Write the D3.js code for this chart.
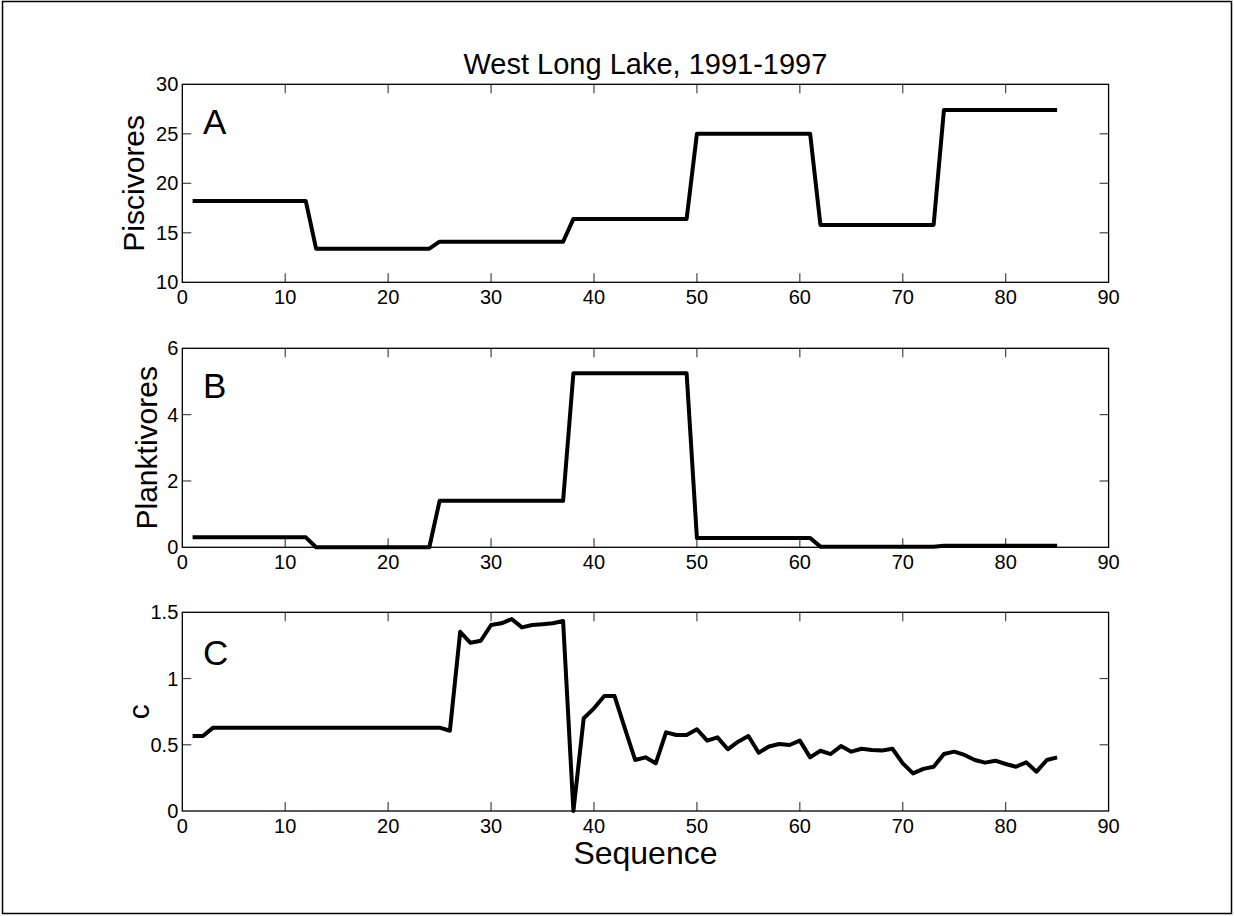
<!DOCTYPE html>
<html>
<head>
<meta charset="utf-8">
<script src="https://cdn.jsdelivr.net/npm/d3@7"></script>
<style>
body { margin: 0; background: #fff; }
text { font-family: Arial, "Liberation Sans", Helvetica, sans-serif; fill: #000; }
</style>
</head>
<body>
<div class="chart"></div>
<script>
// sequence numbers (x)
const sequence = [1,2,3,4,5,6,7,8,9,10,11,12,13,14,15,16,17,18,19,20,
	21,22,23,24,25,26,27,28,29,30,31,32,33,34,35,36,37,38,39,40,
	41,42,43,44,45,46,47,48,49,50,51,52,53,54,55,56,57,58,59,60,
	61,62,63,64,65,66,67,68,69,70,71,72,73,74,75,76,77,78,79,80,
	81,82,83,84,85]

// panel A
const piscivores = [18.2,18.2,18.2,18.2,18.2,18.2,18.2,18.2,18.2,18.2,18.2,18.2,
	13.4,13.4,13.4,13.4,13.4,13.4,13.4,13.4,13.4,13.4,13.4,13.4,
	14.1,14.1,14.1,14.1,14.1,14.1,14.1,14.1,14.1,14.1,14.1,14.1,14.1,
	16.4,16.4,16.4,16.4,16.4,16.4,16.4,16.4,16.4,16.4,16.4,16.4,
	25.0,25.0,25.0,25.0,25.0,25.0,25.0,25.0,25.0,25.0,25.0,25.0,
	15.8,15.8,15.8,15.8,15.8,15.8,15.8,15.8,15.8,15.8,15.8,15.8,
	27.4,27.4,27.4,27.4,27.4,27.4,27.4,27.4,27.4,27.4,27.4,27.4]

// panel B
const planktivores = [0.3,0.3,0.3,0.3,0.3,0.3,0.3,0.3,0.3,0.3,0.3,0.3,
	0,0,0,0,0,0,0,0,0,0,0,0,
	1.4,1.4,1.4,1.4,1.4,1.4,1.4,1.4,1.4,1.4,1.4,1.4,1.4,
	5.25,5.25,5.25,5.25,5.25,5.25,5.25,5.25,5.25,5.25,5.25,5.25,
	0.28,0.28,0.28,0.28,0.28,0.28,0.28,0.28,0.28,0.28,0.28,0.28,
	0.02,0.02,0.02,0.02,0.02,0.02,0.02,0.02,0.02,0.02,0.02,0.02,
	0.05,0.05,0.05,0.05,0.05,0.05,0.05,0.05,0.05,0.05,0.05,0.05]

// panel C
const cValues = [0.566,0.566,0.629,0.629,0.629,0.629,0.629,0.629,0.629,0.629,
	0.629,0.629,0.629,0.629,0.629,0.629,0.629,0.629,0.629,0.629,
	0.629,0.629,0.629,0.629,0.629,0.606,1.353,1.27,1.285,1.404,
	1.417,1.449,1.386,1.404,1.41,1.417,1.434,0.0,0.70,0.775,
	0.868,0.868,0.624,0.385,0.405,0.36,0.594,0.574,0.574,0.617,
	0.531,0.556,0.466,0.523,0.566,0.44,0.487,0.506,0.498,0.531,
	0.405,0.455,0.43,0.49,0.448,0.47,0.46,0.457,0.47,0.36,
	0.284,0.318,0.334,0.43,0.448,0.423,0.385,0.365,0.38,0.355,
	0.334,0.367,0.297,0.385,0.405]

const xTicks = [0,10,20,30,40,50,60,70,80,90]
const yTicksA = [10,15,20,25,30]
const yTicksB = [0,2,4,6]
const yTicksC = [0,0.5,1,1.5]

const titleText = 'West Long Lake, 1991-1997'
const xLabel = 'Sequence'

const width = 1234
const height = 916
const svg = d3.select('.chart')
	.append('svg')
	.attr('width', width)
	.attr('height', height)

// outer figure border
svg.append('rect')
	.attr('x', 2.5).attr('y', 1.5)
	.attr('width', 1229).attr('height', 912)
	.attr('fill', 'none')
	.attr('stroke', '#000')
	.attr('stroke-width', 1.5)

const x = d3.scaleLinear().domain([0, 90]).range([182.3, 1108.6])

const panels = [
	{ values: piscivores, domain: [10, 30], ticks: yTicksA, top: 84.3, bottom: 282.3,
		ylabel: 'Piscivores', labelX: 144, letter: 'A', letterY: 25 },
	{ values: planktivores, domain: [0, 6], ticks: yTicksB, top: 348.3, bottom: 547.3,
		ylabel: 'Planktivores', labelX: 157, letter: 'B', letterY: 4.5 },
	{ values: cValues, domain: [0, 1.5], ticks: yTicksC, top: 612.3, bottom: 811,
		ylabel: 'c', labelX: 149, letter: 'C', letterY: 1.1 },
]

panels.forEach(p => {
	const y = d3.scaleLinear().domain(p.domain).range([p.bottom, p.top])
	const g = svg.append('g')

	// ticks, inward on all four sides
	const tickLen = 9
	g.selectAll('line.xt')
		.data(xTicks.slice(1, -1))
		.enter()
		.append('line')
		.attr('x1', d => x(d)).attr('x2', d => x(d))
		.attr('y1', p.bottom).attr('y2', p.bottom - tickLen)
		.attr('stroke', '#444').attr('stroke-width', 1.2)
	g.selectAll('line.xt2')
		.data(xTicks.slice(1, -1))
		.enter()
		.append('line')
		.attr('x1', d => x(d)).attr('x2', d => x(d))
		.attr('y1', p.top).attr('y2', p.top + tickLen)
		.attr('stroke', '#444').attr('stroke-width', 1.2)
	g.selectAll('line.yt')
		.data(p.ticks.slice(1, -1))
		.enter()
		.append('line')
		.attr('x1', x(0)).attr('x2', x(0) + tickLen)
		.attr('y1', d => y(d)).attr('y2', d => y(d))
		.attr('stroke', '#444').attr('stroke-width', 1.2)
	g.selectAll('line.yt2')
		.data(p.ticks.slice(1, -1))
		.enter()
		.append('line')
		.attr('x1', x(90)).attr('x2', x(90) - tickLen)
		.attr('y1', d => y(d)).attr('y2', d => y(d))
		.attr('stroke', '#444').attr('stroke-width', 1.2)

	// box
	g.append('rect')
		.attr('x', x(0)).attr('y', p.top)
		.attr('width', x(90) - x(0)).attr('height', p.bottom - p.top)
		.attr('fill', 'none')
		.attr('stroke', '#000')
		.attr('stroke-width', 1.3)

	// tick labels
	g.selectAll('text.xl')
		.data(xTicks)
		.enter()
		.append('text')
		.text(d => d)
		.attr('x', d => x(d))
		.attr('y', p.bottom + 22)
		.attr('text-anchor', 'middle')
		.attr('font-size', '20px')
	g.selectAll('text.yl')
		.data(p.ticks)
		.enter()
		.append('text')
		.text(d => d)
		.attr('x', x(0) - 4)
		.attr('y', d => y(d) + 7)
		.attr('text-anchor', 'end')
		.attr('font-size', '20px')

	// data line
	const line = d3.line()
		.x((d, i) => x(sequence[i]))
		.y(d => y(d))
	g.append('path')
		.datum(p.values)
		.attr('d', line)
		.attr('fill', 'none')
		.attr('stroke', '#000')
		.attr('stroke-width', 4)
		.attr('stroke-linejoin', 'round')

	// panel letter
	g.append('text')
		.text(p.letter)
		.attr('x', x(2))
		.attr('y', y(p.letterY))
		.attr('font-size', '35px')

	// y label
	g.append('text')
		.text(p.ylabel)
		.attr('transform', `translate(${p.labelX},${(p.top + p.bottom) / 2}) rotate(-90)`)
		.attr('text-anchor', 'middle')
		.attr('font-size', '30px')
})

// title
svg.append('text')
	.text(titleText)
	.attr('x', (x(0) + x(90)) / 2)
	.attr('y', 74)
	.attr('text-anchor', 'middle')
	.attr('font-size', '29px')

// x label
svg.append('text')
	.text(xLabel)
	.attr('x', (x(0) + x(90)) / 2)
	.attr('y', 864)
	.attr('text-anchor', 'middle')
	.attr('font-size', '32px')
</script>
</body>
</html>
